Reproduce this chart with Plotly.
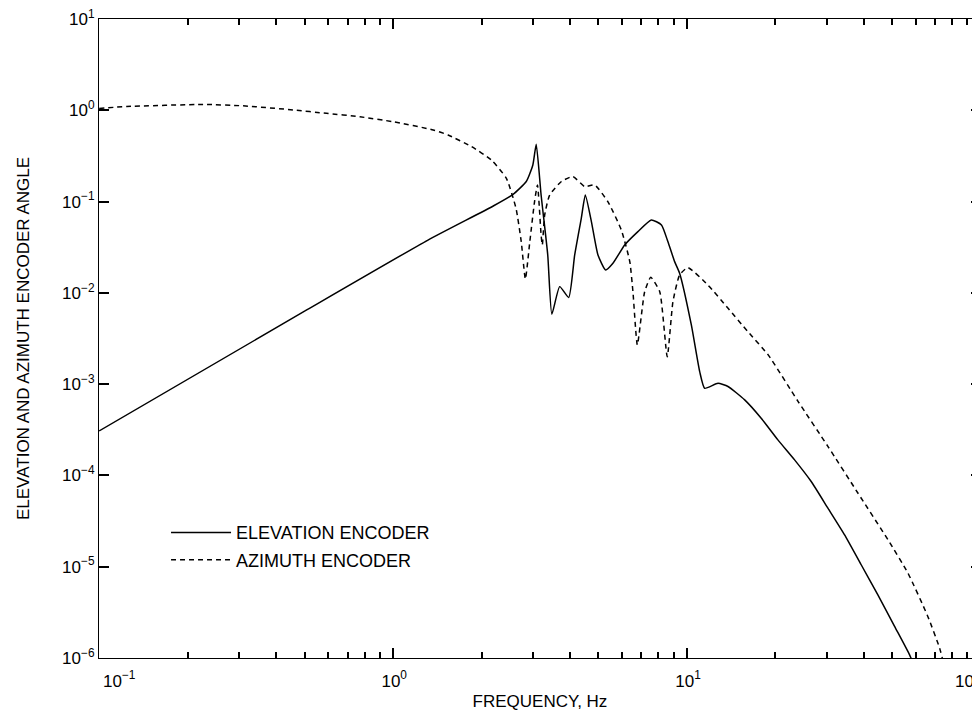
import plotly.graph_objects as go

# ---- data (frequency in Hz, encoder angle) ----
elev_freq = [0.1, 0.5, 1.315, 2.2, 2.56, 2.84, 2.99, 3.07, 3.19, 3.36, 3.47,
             3.69, 3.96, 4.15, 4.37, 4.51, 4.73, 4.98, 5.29, 5.60, 6.14, 6.81, 7.56,
             8.19, 8.61, 9.08, 9.44, 10.35, 11.05, 11.49, 12.75, 13.79, 15.72, 17.89,
             20.39, 23.24, 26.47, 30.17, 34.39, 39.16, 44.63, 50.87, 57.22, 60.0]
elev_amp = [3.07e-4, 6.3e-3, 0.0379, 0.09, 0.120, 0.166, 0.252, 0.425,
            0.118, 0.026, 0.00583, 0.0117, 0.0089, 0.026, 0.0656, 0.118, 0.0604, 0.026,
            0.0178, 0.0211, 0.0335, 0.0469, 0.063, 0.0555, 0.0365, 0.022, 0.0164,
            0.00445, 0.00137, 0.0009, 0.00102, 9.42e-4, 6.72e-4, 4.23e-4, 2.45e-4,
            1.48e-4, 8.57e-5, 4.38e-5, 2.23e-5, 1.05e-5, 4.92e-6, 2.22e-6, 1.08e-6,
            7.5e-7]

az_freq = [0.1, 0.124, 0.226, 0.309, 0.457, 0.593, 0.771, 1.0, 1.37, 1.54, 1.85, 2.16,
           2.43, 2.62, 2.73, 2.82, 2.92, 3.03, 3.10, 3.19, 3.22, 3.28, 3.41, 3.74, 4.09,
           4.49, 4.85, 5.38, 5.98, 6.39, 6.55, 6.78, 7.18, 7.53, 8.08, 8.57, 8.96, 9.44,
           10.07, 11.78, 13.8, 16.1, 18.9, 23.9, 30.2, 38.2, 48.3, 56.5, 66.0, 72.4,
           76.0]
az_amp = [1.05, 1.10, 1.16, 1.12, 1.01, 0.927, 0.85, 0.75, 0.61, 0.536, 0.40, 0.286,
          0.18, 0.0845, 0.0365, 0.0142, 0.0365, 0.1, 0.152, 0.043, 0.0335, 0.071, 0.118,
          0.166, 0.188, 0.146, 0.152, 0.1, 0.0489, 0.022, 0.0103, 0.00269, 0.0103,
          0.0148, 0.0103, 0.002, 0.008, 0.0157, 0.0189, 0.0122, 0.00678, 0.00377,
          0.00209, 6.44e-4, 2.07e-4, 6.38e-5, 1.97e-5, 8.49e-6, 2.85e-6, 1.28e-6,
          7e-7]

NB = "\u00a0"
x_tick_vals = [0.1, 1, 10, 100]
x_tick_text = [NB * 14 + "10<sup>−1</sup>", NB * 6 + "10<sup>0</sup>",
               NB * 6 + "10<sup>1</sup>", "10<sup>2</sup>"]
y_tick_vals = [1e-6, 1e-5, 1e-4, 1e-3, 1e-2, 1e-1, 1, 10]
y_tick_text = ["10<sup>−6</sup>", "10<sup>−5</sup>", "10<sup>−4</sup>", "10<sup>−3</sup>",
               "10<sup>−2</sup>", "10<sup>−1</sup>", "10<sup>0</sup>", "10<sup>1</sup>"]

x_minor_vals = [m * d for d in (0.1, 1, 10) for m in range(2, 10)]

FONT = "Liberation Sans, Arial, Helvetica, sans-serif"

fig = go.Figure()
fig.add_trace(go.Scatter(x=elev_freq, y=elev_amp, mode="lines",
                         name="ELEVATION ENCODER", legendgroup="e",
                         line=dict(color="black", width=1.5, shape="spline", smoothing=0.5)))
fig.add_trace(go.Scatter(x=az_freq, y=az_amp, mode="lines",
                         name="AZIMUTH ENCODER", legendgroup="a",
                         line=dict(color="black", width=1.5, dash="5px,4px",
                                   shape="spline", smoothing=0.5)))

fig.update_xaxes(type="log", range=[-1.0005, 2.0005], tickmode="array",
                 tickvals=x_tick_vals, ticktext=x_tick_text,
                 showline=True, linecolor="black", linewidth=1.2, mirror="allticks",
                 ticks="inside", ticklen=10, tickwidth=2, tickcolor="black",
                 showgrid=False, zeroline=False, ticklabeloverflow="allow",
                 ticklabelstandoff=7, ticklabelshift=-13,
                 tickfont=dict(family=FONT, size=17, color="black"),
                 minor=dict(ticks="inside", ticklen=6, tickwidth=1.5, tickcolor="black",
                            tickmode="array", tickvals=x_minor_vals, showgrid=False),
                 title=dict(text="FREQUENCY, Hz", standoff=5,
                            font=dict(family=FONT, size=17, color="black")))
fig.update_yaxes(type="log", range=[-6.0005, 1.0005], tickmode="array",
                 tickvals=y_tick_vals, ticktext=y_tick_text,
                 showline=True, linecolor="black", linewidth=1.2, mirror="allticks",
                 ticks="inside", ticklen=10, tickwidth=2, tickcolor="black",
                 showgrid=False, zeroline=False, ticklabeloverflow="allow",
                 tickfont=dict(family=FONT, size=17, color="black"),
                 title=dict(text="ELEVATION AND AZIMUTH ENCODER ANGLE", standoff=28,
                            font=dict(family=FONT, size=17, color="black")))

fig.update_layout(
    width=980, height=715,
    margin=dict(l=91, r=7, t=11, b=65, autoexpand=False),
    paper_bgcolor="white", plot_bgcolor="white",
    font=dict(family=FONT, color="black"),
    showlegend=True,
    legend=dict(x=0.076, y=0.225, xanchor="left", yanchor="top",
                bgcolor="rgba(0,0,0,0)", borderwidth=0, itemwidth=60,
                font=dict(family=FONT, size=18, color="black"),
                tracegroupgap=1),
)

fig.write_html("out.html")
